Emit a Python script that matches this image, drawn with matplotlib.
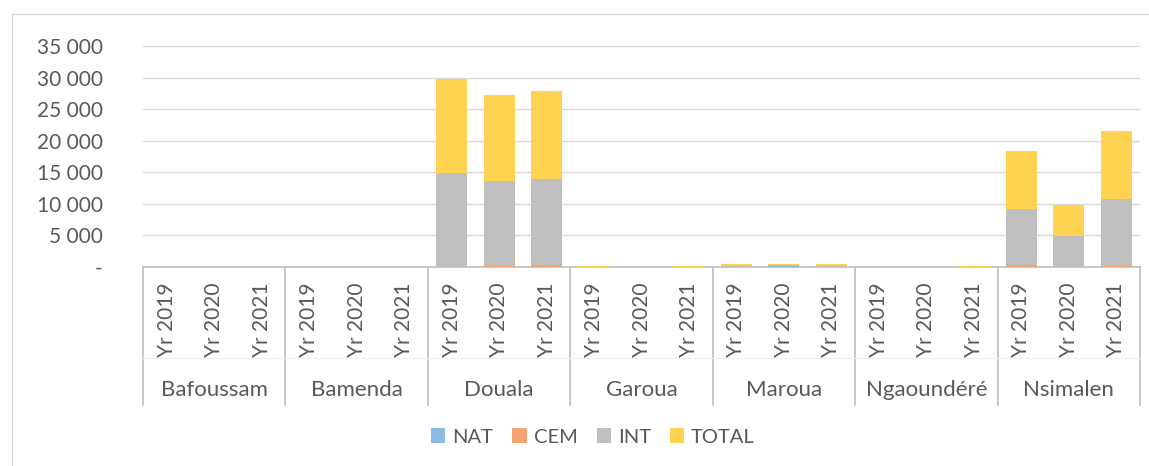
import matplotlib
matplotlib.use("Agg")
import numpy as np
import matplotlib.pyplot as plt
from matplotlib.lines import Line2D
from matplotlib.ticker import FuncFormatter

cities = ["Bafoussam", "Bamenda", "Douala", "Garoua", "Maroua", "Ngaoundéré", "Nsimalen"]
years = ["Yr 2019", "Yr 2020", "Yr 2021"]

# one value per city/year, in order
nat = [0, 0, 0,  0, 0, 0,  0, 0, 0,  0, 0, 0,  40, 90, 30,  0, 0, 0,  0, 0, 0]
cem = [0, 0, 0,  0, 0, 0,  50, 200, 350,  0, 0, 0,  10, 0, 0,  0, 0, 0,  300, 50, 80]
intl = [0, 0, 0,  0, 0, 0,  14820, 13400, 13600,  40, 0, 60,  150, 160, 190,  30, 0, 40,  8880, 4850, 10670]
total = [0, 0, 0,  0, 0, 0,  14870, 13600, 13950,  40, 0, 60,  200, 250, 220,  30, 0, 40,  9180, 4900, 10750]

FONT = "Lato"
TXT = "#595959"
plt.rcParams["font.family"] = [FONT, "DejaVu Sans"]

fig = plt.figure(figsize=(11.49, 4.66), dpi=100)
ax = fig.add_axes([143 / 1149, 1 - 267 / 466, (1140 - 143) / 1149, (267 - 46) / 466])

x = np.arange(len(total))
w = 0.65
bottom = np.zeros(len(x))
series = [("NAT", nat, "#8CB9E3"), ("CEM", cem, "#F4A46E"),
          ("INT", intl, "#BFBFBF"), ("TOTAL", total, "#FFD34F")]
for name, vals, col in series:
    vals = np.array(vals, dtype=float)
    ax.bar(x, vals, w, bottom=bottom, color=col, label=name, zorder=3)
    bottom += vals

ax.set_xlim(-0.5, len(x) - 0.5)
ax.set_ylim(0, 35000)
ax.set_yticks(np.arange(0, 35001, 5000))
ax.yaxis.set_major_formatter(FuncFormatter(lambda v, p: "-" if v == 0 else f"{int(v):,}".replace(",", " ")))
ax.grid(axis="y", color="#d9d9d9", lw=1, zorder=0)
for s in ["top", "right", "left"]:
    ax.spines[s].set_visible(False)
ax.spines["bottom"].set_color("#bfbfbf")
ax.spines["bottom"].set_linewidth(1.2)
ax.tick_params(axis="y", length=0, labelsize=15, labelcolor=TXT, pad=29)
for lab in ax.get_yticklabels():
    lab.set_horizontalalignment("right")

ax.set_xticks(x)
ax.set_xticklabels(years * len(cities), rotation=90, fontsize=15, color=TXT, va="top")
ax.tick_params(axis="x", length=0, pad=11)

tr = ax.get_xaxis_transform()
for i, c in enumerate(cities):
    ax.text(3 * i + 1, -0.555, c, transform=tr, ha="center", va="center",
            fontsize=16, color=TXT)
for b in range(len(cities) + 1):
    ax.add_line(Line2D([3 * b - 0.5] * 2, [0, -0.625], transform=tr,
                       color="#bfbfbf", lw=1.2, clip_on=False))
ax.add_line(Line2D([-0.5, len(x) - 0.5], [-0.412, -0.412], transform=tr,
                   color="#f0f0f0", lw=0.8, clip_on=False))

leg = fig.legend(loc="center", bbox_to_anchor=(593 / 1149, 1 - 437 / 466), ncol=4,
                 frameon=False, fontsize=14.5, handlelength=0.7, handleheight=0.7,
                 handletextpad=0.35, columnspacing=0.95)
for t in leg.get_texts():
    t.set_color(TXT)

# outer chart border
fig.add_artist(Line2D([12 / 1149, 12 / 1149], [0, 1 - 14 / 466], color="#d9d9d9", lw=1))
fig.add_artist(Line2D([12 / 1149, 1], [1 - 14 / 466, 1 - 14 / 466], color="#d9d9d9", lw=1))

fig.savefig("out.png", dpi=100)
